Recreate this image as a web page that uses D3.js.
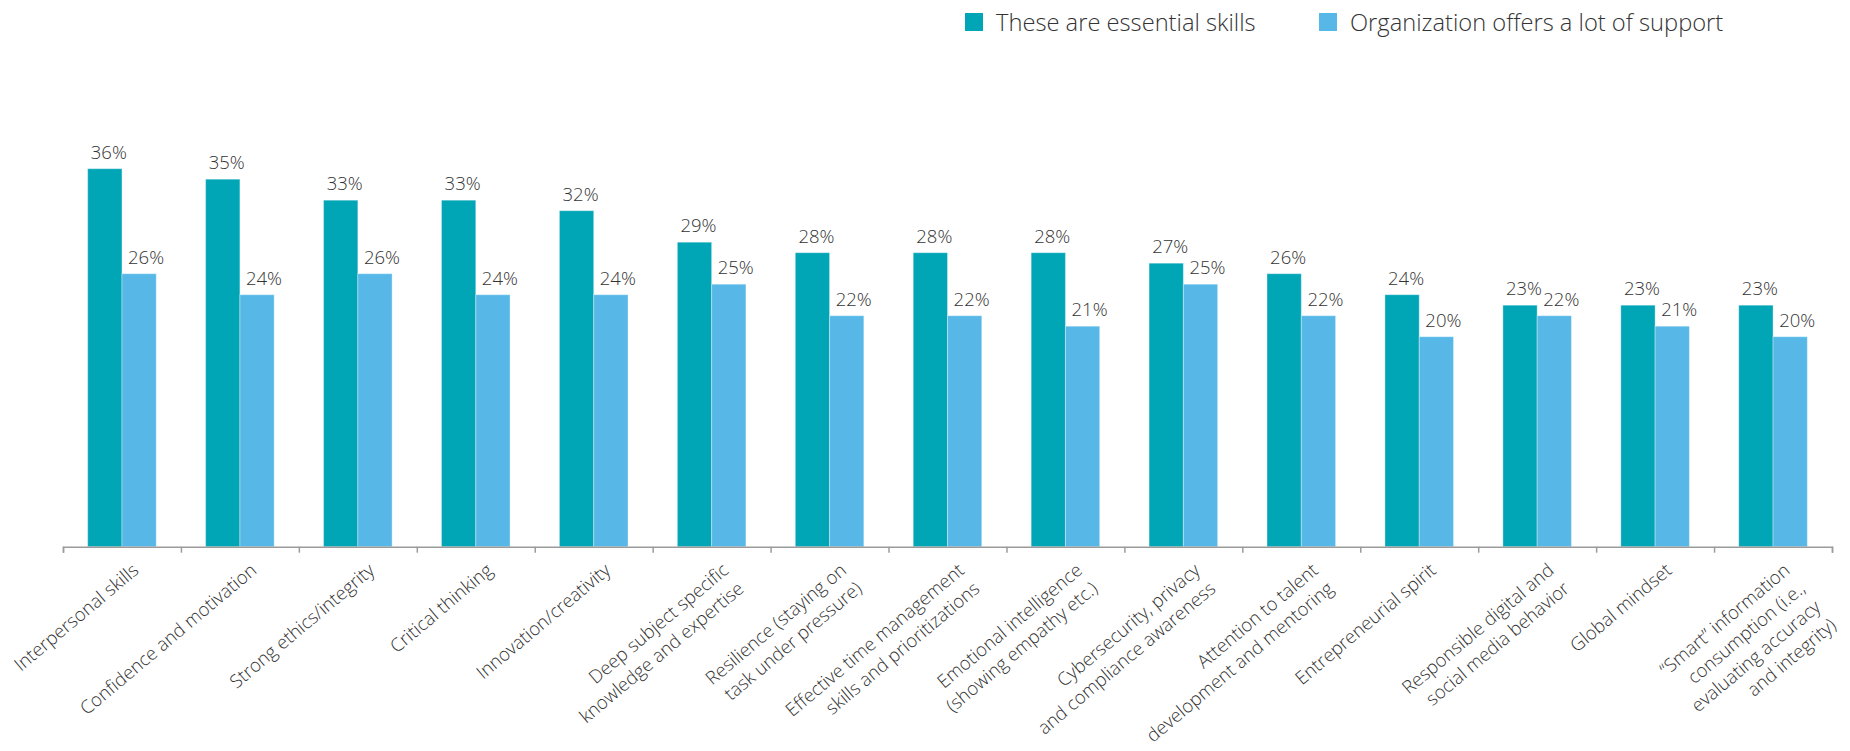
<!DOCTYPE html>
<html>
<head>
<meta charset="utf-8">
<script src="https://cdn.jsdelivr.net/npm/d3@7"></script>
<style>
  html, body { margin: 0; padding: 0; background: #fff; }
  svg { display: block; font-family: "Open Sans", "Noto Sans", sans-serif; }
</style>
</head>
<body>
<svg id="chart" width="1850" height="751"></svg>
<script>
// Skill categories (line breaks for wrapped axis labels)
const categories = [
  ["Interpersonal skills"],
  ["Confidence and motivation"],
  ["Strong ethics/integrity"],
  ["Critical thinking"],
  ["Innovation/creativity"],
  ["Deep subject specific", "knowledge and expertise"],
  ["Resilience (staying on", "task under pressure)"],
  ["Effective time management", "skills and prioritizations"],
  ["Emotional intelligence", "(showing empathy etc.)"],
  ["Cybersecurity, privacy", "and compliance awareness"],
  ["Attention to talent", "development and mentoring"],
  ["Entrepreneurial spirit"],
  ["Responsible digital and", "social media behavior"],
  ["Global mindset"],
  ["\u201cSmart\u201d information", "consumption (i.e.,", "evaluating accuracy", "and integrity)"]
];

const seriesNames = ["These are essential skills", "Organization offers a lot of support"];
const essential = [36, 35, 33, 33, 32, 29, 28, 28, 28, 27, 26, 24, 23, 23, 23];
const support   = [26, 24, 26, 24, 24, 25, 22, 22, 21, 25, 22, 20, 22, 21, 20];

const colors = ["#00a5b6", "#57b8e8"];

const svg = d3.select("#chart");
const left = 63, right = 1832, baseY = 546.7, topY = 126.7;

const keys = categories.map((c, i) => i);
const x0 = d3.scaleBand().domain(keys).range([left, right]).padding(0);
const x1 = d3.scaleBand().domain([0, 1]).range([0, x0.bandwidth()])
  .paddingInner(0).paddingOuter(0.72);
const y = d3.scaleLinear().domain([0, 40]).range([baseY, topY]);

const rows = keys.map(i => [essential[i], support[i]]);

// Bars
const groups = svg.append("g").selectAll("g")
  .data(rows)
  .join("g")
  .attr("transform", (d, i) => `translate(${x0(i)},0)`);

groups.selectAll("rect")
  .data(d => d.map((v, s) => ({ v, s })))
  .join("rect")
  .attr("x", d => x1(d.s))
  .attr("y", d => y(d.v))
  .attr("width", x1.bandwidth())
  .attr("height", d => baseY - y(d.v))
  .attr("fill", d => colors[d.s])
  .attr("stroke", "rgba(255,255,255,0.35)")
  .attr("stroke-width", 1);

// Value labels
const labelShift = [4, 7];
groups.selectAll("text")
  .data(d => d.map((v, s) => ({ v, s })))
  .join("text")
  .attr("x", d => x1(d.s) + x1.bandwidth() / 2 + labelShift[d.s])
  .attr("y", d => y(d.v) - 10)
  .attr("text-anchor", "middle")
  .attr("font-size", 18.5)
  .attr("font-weight", 300)
  .attr("fill", "#333")
  .text(d => d.v + "%");

// Category axis with ticks at the band boundaries
const xEdge = d3.scaleLinear().domain([0, categories.length]).range([left, right]);
const axis = svg.append("g")
  .attr("transform", `translate(0,${baseY})`)
  .call(d3.axisBottom(xEdge)
    .tickValues(d3.range(categories.length + 1))
    .tickSize(6)
    .tickSizeOuter(6)
    .tickFormat(""));
axis.selectAll("path, line").attr("stroke", "#9b9b9b").attr("stroke-width", 1.5);

// Rotated category labels, right-aligned, one tspan per line
const lineH = 24;
const catLabels = svg.append("g").selectAll("text")
  .data(categories)
  .join("text")
  .attr("transform", (d, i) => `translate(${x0(i) + x0.bandwidth() / 2 + 18},${baseY + 25.5}) rotate(-40)`)
  .attr("text-anchor", "end")
  .attr("font-size", 18.5)
  .attr("font-weight", 300)
  .attr("fill", "#333");
catLabels.selectAll("tspan")
  .data(d => d)
  .join("tspan")
  .attr("x", 0)
  .attr("dy", (d, j) => j === 0 ? 0 : lineH)
  .text(d => d);

// Legend
const legendX = [965, 1319];
const legend = svg.append("g").selectAll("g")
  .data(seriesNames)
  .join("g")
  .attr("transform", (d, i) => `translate(${legendX[i]},0)`);
legend.append("rect")
  .attr("x", 0).attr("y", 13)
  .attr("width", 18).attr("height", 18)
  .attr("fill", (d, i) => colors[i]);
legend.append("text")
  .attr("x", 31).attr("y", 30.5)
  .attr("font-size", 23.7)
  .attr("font-weight", 300)
  .attr("fill", "#333")
  .text(d => d);
</script>
</body>
</html>
